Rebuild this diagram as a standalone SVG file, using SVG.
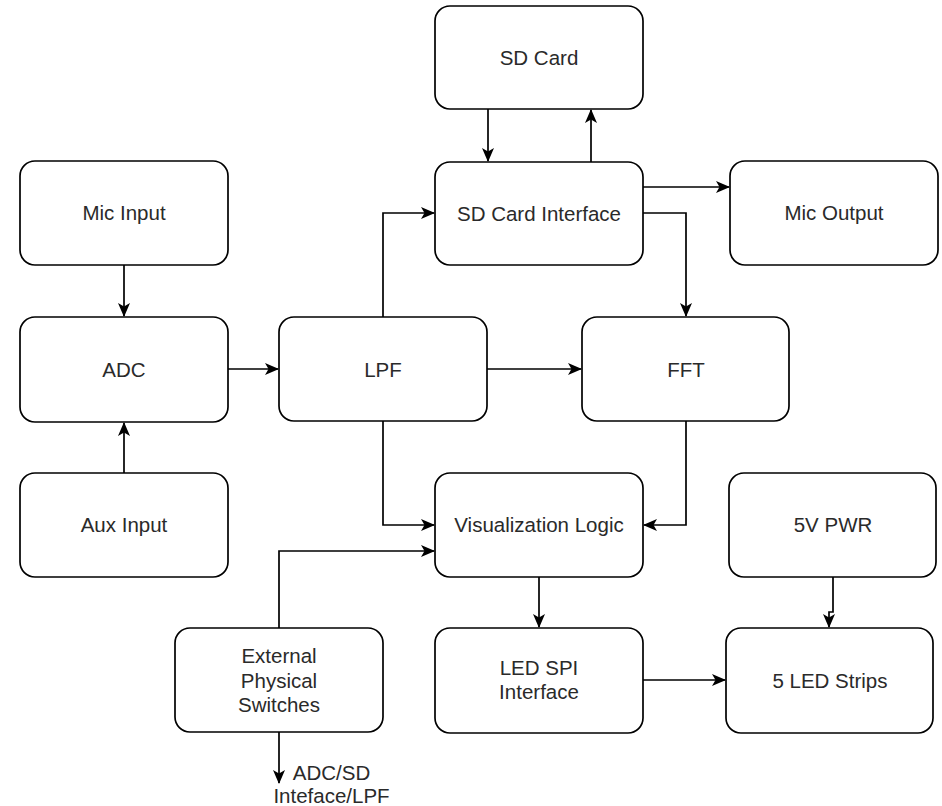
<svg xmlns="http://www.w3.org/2000/svg" width="942" height="806" viewBox="0 0 942 806">
<style>
.box{fill:#fff;stroke:#000;stroke-width:1.7}
.lbl{font-family:"Liberation Sans",Arial,sans-serif;font-size:20.5px;fill:#2a2a2a;text-anchor:middle}
.edge{fill:none;stroke:#000;stroke-width:1.7}
</style>
<defs>
<marker id="arr" markerUnits="userSpaceOnUse" markerWidth="14" markerHeight="12" viewBox="0 0 14 12" refX="13" refY="6" orient="auto">
<path d="M0,0 L14,6 L0,12 L3.5,6 Z" fill="#000"/>
</marker>
</defs>
<rect width="942" height="806" fill="#fff"/>
<g id="connectors">
<path class="edge" d="M124,265 L124,316" marker-end="url(#arr)"/>
<path class="edge" d="M124,473 L124,423" marker-end="url(#arr)"/>
<path class="edge" d="M228,369 L278,369" marker-end="url(#arr)"/>
<path class="edge" d="M383,317 L383,213 L434,213" marker-end="url(#arr)"/>
<path class="edge" d="M487,369 L581,369" marker-end="url(#arr)"/>
<path class="edge" d="M383,421 L383,525 L434,525" marker-end="url(#arr)"/>
<path class="edge" d="M488,109 L488,161" marker-end="url(#arr)"/>
<path class="edge" d="M591,162 L591,110" marker-end="url(#arr)"/>
<path class="edge" d="M643,187 L729,187" marker-end="url(#arr)"/>
<path class="edge" d="M643,213 L686,213 L686,316" marker-end="url(#arr)"/>
<path class="edge" d="M686,421 L686,525 L644,525" marker-end="url(#arr)"/>
<path class="edge" d="M279,628 L279,551 L434,551" marker-end="url(#arr)"/>
<path class="edge" d="M279,732 L279,783" marker-end="url(#arr)"/>
<path class="edge" d="M539,577 L539,627" marker-end="url(#arr)"/>
<path class="edge" d="M643,680 L725,680" marker-end="url(#arr)"/>
<path class="edge" d="M833,577 L833,612 L829,612 L829,627" marker-end="url(#arr)"/>
</g>
<g id="sd-card"><rect class="box" x="435" y="6" width="208" height="103" rx="15"/><text class="lbl" x="539" y="65">SD Card</text></g>
<g id="mic-input"><rect class="box" x="20" y="161" width="208" height="104" rx="15"/><text class="lbl" x="124" y="220">Mic Input</text></g>
<g id="sd-card-interface"><rect class="box" x="435" y="162" width="208" height="103" rx="15"/><text class="lbl" x="539" y="221">SD Card Interface</text></g>
<g id="mic-output"><rect class="box" x="730" y="161" width="208" height="104" rx="15"/><text class="lbl" x="834" y="220">Mic Output</text></g>
<g id="adc"><rect class="box" x="20" y="317" width="208" height="105" rx="15"/><text class="lbl" x="124" y="377">ADC</text></g>
<g id="lpf"><rect class="box" x="279" y="317" width="208" height="104" rx="15"/><text class="lbl" x="383" y="377">LPF</text></g>
<g id="fft"><rect class="box" x="582" y="317" width="207" height="104" rx="15"/><text class="lbl" x="686" y="377">FFT</text></g>
<g id="aux-input"><rect class="box" x="20" y="473" width="208" height="104" rx="15"/><text class="lbl" x="124" y="532">Aux Input</text></g>
<g id="visualization-logic"><rect class="box" x="435" y="473" width="208" height="104" rx="15"/><text class="lbl" x="539" y="532">Visualization Logic</text></g>
<g id="5v-pwr"><rect class="box" x="729" y="473" width="207" height="104" rx="15"/><text class="lbl" x="833" y="532">5V PWR</text></g>
<g id="external-switches"><rect class="box" x="175" y="628" width="208" height="104" rx="15"/><text class="lbl" x="279" y="663">External</text><text class="lbl" x="279" y="688">Physical</text><text class="lbl" x="279" y="712">Switches</text></g>
<g id="led-spi-interface"><rect class="box" x="435" y="628" width="208" height="105" rx="15"/><text class="lbl" x="539" y="675">LED SPI</text><text class="lbl" x="539" y="699">Interface</text></g>
<g id="led-strips"><rect class="box" x="726" y="628" width="207" height="105" rx="15"/><text class="lbl" x="830" y="688">5 LED Strips</text></g>
<g id="switch-output-label"><text class="lbl" x="331.5" y="780">ADC/SD</text><text class="lbl" x="331.5" y="803">Inteface/LPF</text></g>
</svg>
